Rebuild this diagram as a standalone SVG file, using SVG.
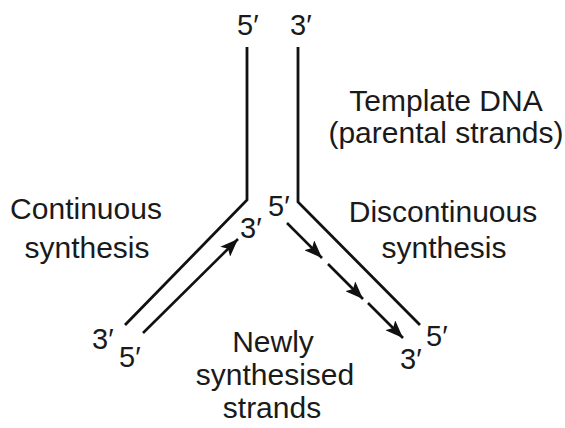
<svg xmlns="http://www.w3.org/2000/svg" width="565" height="428" viewBox="0 0 565 428">
<style>
text{font-family:"Liberation Sans",Arial,sans-serif;fill:#1a1a1a}
.lbl{font-size:30px;text-anchor:middle}
.p{font-size:29px}
.s{fill:none;stroke:#111;stroke-width:2.8;stroke-linejoin:miter}
.n{fill:none;stroke:#111;stroke-width:2.6}
</style>
<defs>
<marker id="ah" markerUnits="userSpaceOnUse" markerWidth="20" markerHeight="14" refX="18" refY="7" orient="auto">
<path d="M0,0 L18,7 L0,14 L4,7 Z" fill="#111"/>
</marker>
</defs>
<g id="connectors">
<polyline class="s" points="247,47 247,200 125,325"/>
<polyline class="s" points="298,47 298,202 420,325"/>
<line class="n" x1="143" y1="333" x2="238" y2="239" marker-end="url(#ah)"/>
<line class="n" x1="287" y1="223" x2="322" y2="258" marker-end="url(#ah)"/>
<line class="n" x1="328" y1="264" x2="363" y2="299" marker-end="url(#ah)"/>
<line class="n" x1="368" y1="303" x2="403" y2="338" marker-end="url(#ah)"/>
</g>
<g id="ends">
<text class="p" x="237" y="35">5′</text>
<text class="p" x="290" y="35">3′</text>
<text class="p" x="268" y="216">5′</text>
<text class="p" x="240" y="238">3′</text>
<text class="p" x="92" y="349">3′</text>
<text class="p" x="119" y="367">5′</text>
<text class="p" x="426" y="346">5′</text>
<text class="p" x="400" y="369">3′</text>
</g>
<g id="template-label">
<text class="lbl" x="446" y="111">Template DNA</text>
<text class="lbl" x="446" y="143">(parental strands)</text>
</g>
<g id="continuous-label">
<text class="lbl" x="86" y="219">Continuous</text>
<text class="lbl" x="87" y="258">synthesis</text>
</g>
<g id="discontinuous-label">
<text class="lbl" x="443" y="222">Discontinuous</text>
<text class="lbl" x="444" y="258">synthesis</text>
</g>
<g id="new-label">
<text class="lbl" x="273" y="352">Newly</text>
<text class="lbl" x="275" y="385">synthesised</text>
<text class="lbl" x="272" y="418">strands</text>
</g>
</svg>
